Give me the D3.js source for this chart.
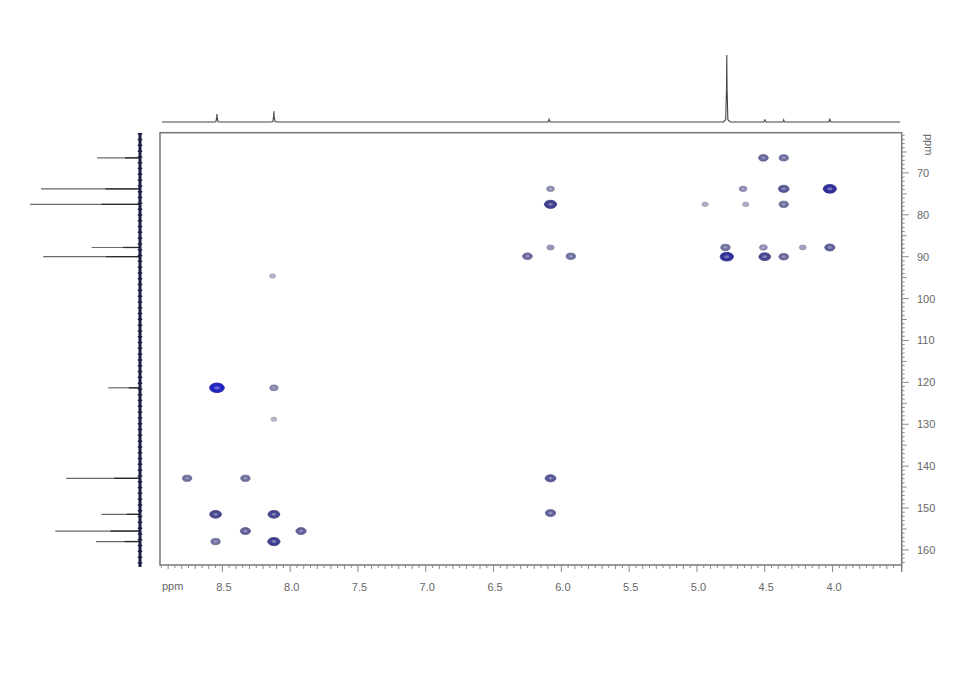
<!DOCTYPE html>
<html><head><meta charset="utf-8">
<script src="https://cdn.jsdelivr.net/npm/d3@7/dist/d3.min.js"></script>
<style>body{margin:0;background:#fff}svg{display:block}text{font-family:"Liberation Sans",Arial,sans-serif}</style>
</head><body><svg id="c" width="980" height="683"></svg>
<script>
// 1H chemical shifts (ppm), 13C chemical shifts (ppm), relative intensity
const peakH = [8.54, 8.12, 8.12, 8.13, 8.76, 8.33, 8.55, 8.12, 8.33, 7.92, 8.55, 8.12,
               6.08, 6.08, 6.08, 6.25, 5.93, 6.08, 6.08,
               4.51, 4.36, 4.66, 4.36, 4.02, 4.94, 4.64, 4.36, 4.79, 4.51, 4.22, 4.02, 4.78, 4.50, 4.36];
const peakC = [121.3, 121.3, 128.8, 94.6, 142.9, 142.9, 151.5, 151.5, 155.5, 155.5, 158.0, 158.0,
               73.8, 77.5, 87.8, 89.9, 89.9, 142.9, 151.2,
               66.4, 66.4, 73.8, 73.8, 73.8, 77.5, 77.5, 77.5, 87.8, 87.8, 87.8, 87.8, 90.0, 90.0, 90.0];
const peakI = [1.0, 0.35, 0.1, 0.12, 0.45, 0.45, 0.7, 0.7, 0.55, 0.55, 0.45, 0.75,
               0.3, 0.75, 0.25, 0.5, 0.45, 0.6, 0.55,
               0.5, 0.45, 0.3, 0.6, 0.85, 0.15, 0.15, 0.45, 0.45, 0.3, 0.2, 0.55, 0.85, 0.7, 0.5];
// top 1H projection
const projH = [8.54, 8.12, 6.09, 4.78, 4.50, 4.36, 4.02];
const projHI = [0.12, 0.16, 0.05, 1.0, 0.04, 0.03, 0.05];
// left 13C projection
const projC = [66.4, 73.8, 77.5, 87.8, 90.0, 121.3, 142.9, 151.5, 155.5, 158.0];
const projCI = [0.39, 0.9, 1.0, 0.44, 0.88, 0.29, 0.67, 0.35, 0.77, 0.4];
// tick labels
const xTickLabels = [8.5, 8.0, 7.5, 7.0, 6.5, 6.0, 5.5, 5.0, 4.5, 4.0];
const yTickLabels = [70, 80, 90, 100, 110, 120, 130, 140, 150, 160];

const svg = d3.select("#c");
const L = 160, R = 901.7, T = 132.7, B = 565;
const x = d3.scaleLinear().domain([8.96, 3.49]).range([L, R]);
const y = d3.scaleLinear().domain([60.4, 163.6]).range([T, B]);
const yTop = d3.scaleLinear().domain([0, 1]).range([122, 55]);
const xLeft = d3.scaleLinear().domain([0, 1]).range([140, 30]);

// top projection
const pts = [[x.invert(162), 0]];
projH.map((p, i) => ({p, h: projHI[i]})).sort((a, b) => b.p - a.p).forEach(({p, h}) => {
  pts.push([p + 0.025, 0], [p + 0.008, 0.035 * h], [p + 0.002, 0.5 * h], [p, h], [p - 0.002, 0.5 * h], [p - 0.008, 0.035 * h], [p - 0.025, 0]);
});
pts.push([x.invert(900), 0]);
svg.append("path").attr("d", d3.line().x(d => x(d[0])).y(d => yTop(d[1]))(pts))
  .attr("fill", "none").attr("stroke", "#444").attr("stroke-width", 1.1);

// left projection
svg.append("g").selectAll("line").data(projC).join("line")
  .attr("x1", xLeft(0)).attr("x2", (d, i) => xLeft(projCI[i]))
  .attr("y1", d => y(d)).attr("y2", d => y(d))
  .attr("stroke", "#6a6a6a").attr("stroke-width", 1.2);
svg.append("g").selectAll("line").data(projC).join("line")
  .attr("x1", xLeft(0)).attr("x2", (d, i) => xLeft(projCI[i] * 0.35))
  .attr("y1", d => y(d)).attr("y2", d => y(d))
  .attr("stroke", "#2a2a2a").attr("stroke-width", 1.3);
svg.append("line").attr("x1", 140).attr("x2", 140).attr("y1", 133).attr("y2", 567)
  .attr("stroke", "#1c1c44").attr("stroke-width", 3);
svg.append("line").attr("x1", 140).attr("x2", 140).attr("y1", 133).attr("y2", 567)
  .attr("stroke", "#1c1c44").attr("stroke-width", 4.5).attr("stroke-dasharray", "1.5,4.3");

// frame
svg.append("rect").attr("x", L).attr("y", T).attr("width", R - L).attr("height", B - T)
  .attr("fill", "none").attr("stroke", "#777").attr("stroke-width", 1.5);
svg.append("line").attr("x1", R).attr("x2", R).attr("y1", B).attr("y2", B + 7).attr("stroke", "#777").attr("stroke-width", 1.3);

// bottom ticks
const gx = svg.append("g").attr("stroke", "#888").attr("stroke-width", 1);
d3.range(89, 35, -1).map(v => v / 10).forEach(v => {
  const major = Math.abs(v * 2 - Math.round(v * 2)) < 1e-6;
  gx.append("line").attr("x1", x(v)).attr("x2", x(v)).attr("y1", B).attr("y2", B + (major ? 7 : 4));
});
d3.range(895, 350, -10).map(v => v / 100).forEach(v => {
  gx.append("line").attr("x1", x(v)).attr("x2", x(v)).attr("y1", B).attr("y2", B + 3);
});
svg.append("g").selectAll("text").data(xTickLabels).join("text")
  .attr("x", d => x(d) + 1.5).attr("y", 591).attr("text-anchor", "middle")
  .attr("font-size", 11).attr("fill", "#666").text(d => d.toFixed(1));
svg.append("text").attr("x", 162).attr("y", 590).attr("font-size", 11).attr("fill", "#666").text("ppm");

// right ticks
const gy = svg.append("g").attr("stroke", "#888").attr("stroke-width", 1);
d3.range(61, 164, 1).forEach(v => {
  const len = v % 10 === 0 ? 7 : (v % 5 === 0 ? 5 : 3);
  gy.append("line").attr("x1", R).attr("x2", R + len).attr("y1", y(v)).attr("y2", y(v));
});
svg.append("g").selectAll("text").data(yTickLabels).join("text")
  .attr("x", 917).attr("y", d => y(d) + 4).attr("font-size", 11).attr("fill", "#666").text(d => d);
svg.append("text").attr("transform", `translate(925,134) rotate(90)`).attr("font-size", 11).attr("fill", "#666").text("ppm");

// cross peaks
const col = d3.scaleLinear().domain([0, 0.45, 0.8, 1]).range(["#c8c8d6", "#6a6a9c", "#2c2c86", "#1818c0"]);
const cp = peakH.map((h, i) => ({h, c: peakC[i], v: peakI[i]}));
const g = svg.append("g");
cp.forEach(d => {
  const rx = 2.4 + 5 * d.v, ry = 1.8 + 3 * d.v;
  g.append("ellipse").attr("cx", x(d.h)).attr("cy", y(d.c)).attr("rx", rx).attr("ry", ry)
    .attr("fill", col(d.v)).attr("stroke", d3.color(col(d.v)).darker(0.3)).attr("stroke-width", 0.8)
    .attr("opacity", 0.95);
  if (d.v >= 0.3) {
    g.append("ellipse").attr("cx", x(d.h)).attr("cy", y(d.c)).attr("rx", rx * 0.4).attr("ry", ry * 0.35)
      .attr("fill", d3.interpolate(col(d.v), "#fff")(0.35));
  }
});
</script></body></html>
